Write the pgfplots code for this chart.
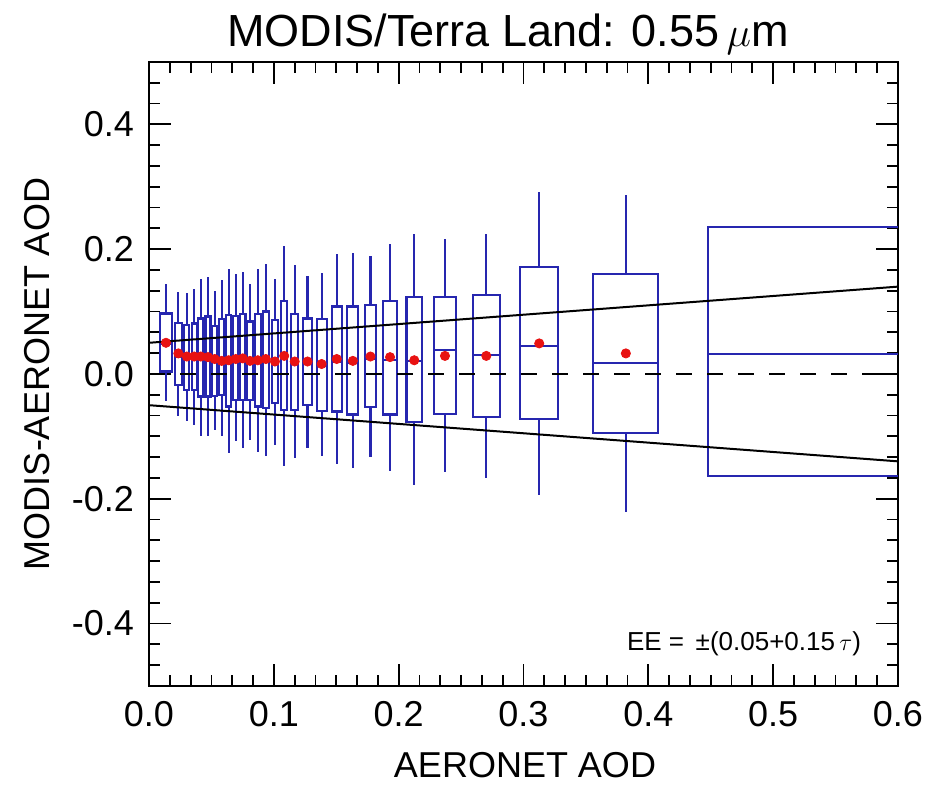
\documentclass[border=0pt]{standalone}
\usepackage{fontspec}
\setmainfont{Liberation Sans}
\usepackage{pgfplots}
\pgfplotsset{compat=1.18}
\usepgfplotslibrary{statistics}

\definecolor{boxblue}{RGB}{38,38,175}
\definecolor{dotred}{RGB}{232,18,18}

% pos, width, lower whisker, q1, median, q3, upper whisker
\pgfplotsset{
  bx/.style n args={7}{boxplot prepared={draw position=#1, box extend=#2,
      lower whisker=#3, lower quartile=#4, median=#5,
      upper quartile=#6, upper whisker=#7}},
  boxplot/draw direction=y,
  boxplot/whisker extend=0,
  bb/.style={boxblue, line width=1.1pt},
}

\begin{document}
\begin{tikzpicture}
\begin{axis}[
  scale only axis, width=374.5pt, height=312pt,
  xmin=0, xmax=0.6, ymin=-0.5, ymax=0.5,
  xtick={0,0.1,0.2,0.3,0.4,0.5,0.6},
  ytick={-0.4,-0.2,0,0.2,0.4},
  minor xtick={0,0.0166667,...,0.6},
  minor ytick={-0.5,-0.4666667,...,0.5},
  major tick length=11pt, minor tick length=5.5pt,
  tick style={black, line width=0.9pt},
  axis line style={line width=1.1pt},
  /pgf/number format/assume math mode=true,
  tick label style={font=\fontsize{18}{20}\selectfont},
  xticklabel style={/pgf/number format/fixed, /pgf/number format/fixed zerofill,
    /pgf/number format/precision=1, yshift=-4pt},
  yticklabel style={/pgf/number format/fixed, /pgf/number format/fixed zerofill,
    /pgf/number format/precision=1, xshift=-4pt},
  boxplot/draw direction=y,
]
% boxes
\addplot[bb, bx={0.0136}{0.0094}{-0.044}{0.004}{0.048}{0.097}{0.144}] coordinates {};
\addplot[bb, bx={0.0235}{0.0054}{-0.068}{-0.018}{0.028}{0.082}{0.132}] coordinates {};
\addplot[bb, bx={0.0303}{0.0040}{-0.076}{-0.026}{0.024}{0.078}{0.129}] coordinates {};
\addplot[bb, bx={0.0362}{0.0040}{-0.082}{-0.026}{0.024}{0.081}{0.136}] coordinates {};
\addplot[bb, bx={0.0415}{0.0040}{-0.100}{-0.036}{0.024}{0.089}{0.152}] coordinates {};
\addplot[bb, bx={0.0473}{0.0040}{-0.100}{-0.036}{0.023}{0.092}{0.156}] coordinates {};
\addplot[bb, bx={0.0526}{0.0040}{-0.090}{-0.035}{0.020}{0.077}{0.133}] coordinates {};
\addplot[bb, bx={0.0582}{0.0040}{-0.100}{-0.034}{0.018}{0.088}{0.151}] coordinates {};
\addplot[bb, bx={0.0638}{0.0040}{-0.126}{-0.052}{0.018}{0.095}{0.168}] coordinates {};
\addplot[bb, bx={0.0695}{0.0040}{-0.108}{-0.042}{0.020}{0.093}{0.160}] coordinates {};
\addplot[bb, bx={0.0751}{0.0044}{-0.119}{-0.042}{0.021}{0.096}{0.164}] coordinates {};
\addplot[bb, bx={0.0809}{0.0044}{-0.106}{-0.042}{0.017}{0.084}{0.145}] coordinates {};
\addplot[bb, bx={0.0872}{0.0046}{-0.125}{-0.052}{0.018}{0.096}{0.168}] coordinates {};
\addplot[bb, bx={0.0936}{0.0051}{-0.131}{-0.055}{0.020}{0.100}{0.176}] coordinates {};
\addplot[bb, bx={0.1009}{0.0053}{-0.114}{-0.047}{0.016}{0.087}{0.153}] coordinates {};
\addplot[bb, bx={0.1083}{0.0051}{-0.147}{-0.058}{0.025}{0.117}{0.205}] coordinates {};
\addplot[bb, bx={0.1167}{0.0059}{-0.134}{-0.058}{0.017}{0.096}{0.174}] coordinates {};
\addplot[bb, bx={0.1270}{0.0067}{-0.119}{-0.050}{0.017}{0.089}{0.157}] coordinates {};
\addplot[bb, bx={0.1383}{0.0080}{-0.131}{-0.059}{0.013}{0.088}{0.162}] coordinates {};
\addplot[bb, bx={0.1504}{0.0080}{-0.145}{-0.060}{0.020}{0.108}{0.192}] coordinates {};
\addplot[bb, bx={0.1633}{0.0088}{-0.151}{-0.065}{0.017}{0.108}{0.194}] coordinates {};
\addplot[bb, bx={0.1774}{0.0088}{-0.133}{-0.053}{0.024}{0.110}{0.189}] coordinates {};
\addplot[bb, bx={0.1931}{0.0107}{-0.155}{-0.065}{0.023}{0.117}{0.208}] coordinates {};
\addplot[bb, bx={0.2125}{0.0123}{-0.178}{-0.077}{0.021}{0.124}{0.224}] coordinates {};
\addplot[bb, bx={0.2371}{0.0176}{-0.157}{-0.064}{0.038}{0.123}{0.216}] coordinates {};
\addplot[bb, bx={0.2702}{0.0219}{-0.166}{-0.069}{0.030}{0.127}{0.224}] coordinates {};
\addplot[bb, bx={0.3126}{0.0307}{-0.194}{-0.072}{0.045}{0.171}{0.292}] coordinates {};
\addplot[bb, bx={0.3820}{0.0521}{-0.221}{-0.094}{0.017}{0.160}{0.287}] coordinates {};
\addplot[bb, bx={0.6500}{0.4040}{-0.163}{-0.163}{0.032}{0.236}{0.236}] coordinates {};

% expected error envelope and zero line
\addplot[black, line width=1pt] coordinates {(0,0.05) (0.6,0.14)};
\addplot[black, line width=1pt] coordinates {(0,-0.05) (0.6,-0.14)};
\addplot[black, line width=0.9pt, dash pattern=on 8pt off 7.5pt] coordinates {(0,0) (0.6,0)};

% bin means
\addplot[only marks, mark=*, mark size=2.3pt, dotred] coordinates {
  (0.0136,0.050) (0.0235,0.033) (0.0303,0.028) (0.0362,0.028) (0.0415,0.028)
  (0.0473,0.027) (0.0526,0.024) (0.0582,0.021) (0.0638,0.022) (0.0695,0.024)
  (0.0751,0.025) (0.0809,0.021) (0.0872,0.022) (0.0936,0.024) (0.1009,0.020)
  (0.1083,0.029) (0.1167,0.020) (0.1270,0.020) (0.1383,0.016) (0.1504,0.024)
  (0.1633,0.021) (0.1774,0.028) (0.1931,0.027) (0.2125,0.022) (0.2371,0.029)
  (0.2702,0.029) (0.3126,0.049) (0.3820,0.033)
};
\end{axis}

\node[anchor=base, font=\fontsize{22.5}{26}\selectfont] at (179.5pt,319.5pt)
  {MODIS/Terra Land: 0.55\,$\mu$m};
\node[anchor=center, font=\fontsize{18}{20}\selectfont] at (188pt,-39.5pt) {AERONET AOD};
\node[anchor=center, rotate=90, font=\fontsize{18}{20}\selectfont] at (-56pt,156pt) {MODIS-AERONET AOD};
\node[anchor=base east, font=\fontsize{13}{15}\selectfont] at (359.5pt,17.5pt)
  {EE = \,±(0.05+0.15\,$\tau$)};

\pgfresetboundingbox
\path[use as bounding box] (-74.5pt,-49.25pt) rectangle (391.5pt,343pt);
\end{tikzpicture}
\end{document}
